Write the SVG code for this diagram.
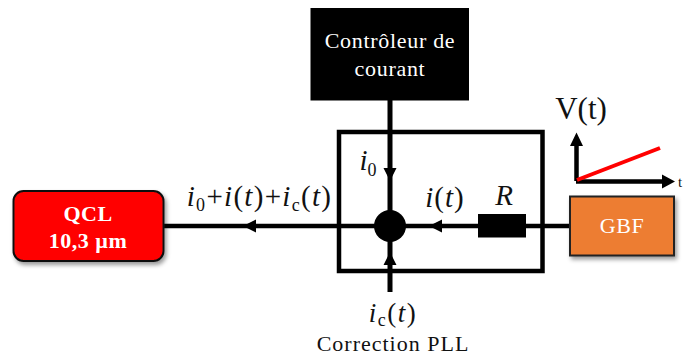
<svg xmlns="http://www.w3.org/2000/svg" width="684" height="356" viewBox="0 0 684 356">
<style>
text{font-family:"Liberation Serif","DejaVu Serif",serif;fill:#111}
.w{fill:#fff;text-anchor:middle}
.m{font-size:29px;font-style:italic;text-anchor:middle}
.r{font-style:normal}
.s{font-size:18px}
.c{fill:none;stroke:#000;stroke-width:4.5}
</style>
<defs>
<filter id="sh" x="-10%" y="-10%" width="125%" height="130%"><feDropShadow dx="2" dy="3" stdDeviation="2" flood-color="#000" flood-opacity="0.4"/></filter>
</defs>
<g id="controleur">
<rect x="310.500" y="8" width="158.500" height="92.500" fill="#000"/>
<text class="w" x="390" y="48" font-size="22" letter-spacing="0.700">Contrôleur de</text>
<text class="w" x="390" y="76" font-size="22" letter-spacing="0.700">courant</text>
</g>
<g id="connectors">
<rect x="339" y="132" width="203.500" height="139" class="c"/>
<path d="M163 226H570" class="c"/>
<path d="M390 100V292" fill="none" stroke="#000" stroke-width="5"/>
<path d="M256 219.500V232.500L243 226Z M442 219.500V232.500L429 226Z M383.500 168H396.500L390 181Z M383.500 265H396.500L390 252Z"/>
</g>
<g id="jonction"><circle cx="390" cy="226" r="16" fill="#000"/></g>
<g id="resistance">
<rect x="478" y="214" width="48" height="23.500" fill="#000"/>
<text class="m" x="504" y="205" font-size="25">R</text>
</g>
<g id="qcl">
<rect x="13.500" y="191" width="150" height="70" rx="10" fill="#f00" stroke="#111" stroke-width="2" filter="url(#sh)"/>
<text class="w" x="88" y="221" font-size="22" font-weight="bold" letter-spacing="0.500">QCL</text>
<text class="w" x="88" y="248" font-size="22" font-weight="bold" letter-spacing="0.500">10,3 µm</text>
</g>
<g id="gbf">
<rect x="570" y="196.500" width="104" height="59" fill="#ed7d31" stroke="#222" stroke-width="2" filter="url(#sh)"/>
<text class="w" x="622" y="233" font-size="22" letter-spacing="0.500">GBF</text>
</g>
<g id="graphe">
<path d="M576.500 181V145M576 181.500H662" fill="none" stroke="#000" stroke-width="4.500"/>
<path d="M570 146L576.500 132.500L583 146Z M662 174.500L675 181.500L662 188.500Z"/>
<path d="M577 180L660 148" fill="none" stroke="#f00" stroke-width="4"/>
<text x="581" y="119" font-size="31" text-anchor="middle">V(t)</text>
<text x="678" y="187" font-size="15">t</text>
</g>
<g id="labels">
<text class="m" x="259.500" y="206" letter-spacing="1.300">i<tspan class="s r" dy="5">0</tspan><tspan class="r" dy="-5">+</tspan>i<tspan class="r">(</tspan>t<tspan class="r">)+</tspan>i<tspan class="s r" dy="5">c</tspan><tspan class="r" dy="-5">(</tspan>t<tspan class="r">)</tspan></text>
<text class="m" x="368" y="170">i<tspan class="s r" dy="6">0</tspan></text>
<text class="m" x="445" y="207" letter-spacing="1">i<tspan class="r">(</tspan>t<tspan class="r">)</tspan></text>
<text class="m" x="393" y="322" style="font-size:27px" letter-spacing="1.500">i<tspan class="s r" dy="4">c</tspan><tspan class="r" dy="-4">(</tspan>t<tspan class="r">)</tspan></text>
<text x="393" y="351" font-size="22" text-anchor="middle" letter-spacing="1">Correction PLL</text>
</g>
</svg>
